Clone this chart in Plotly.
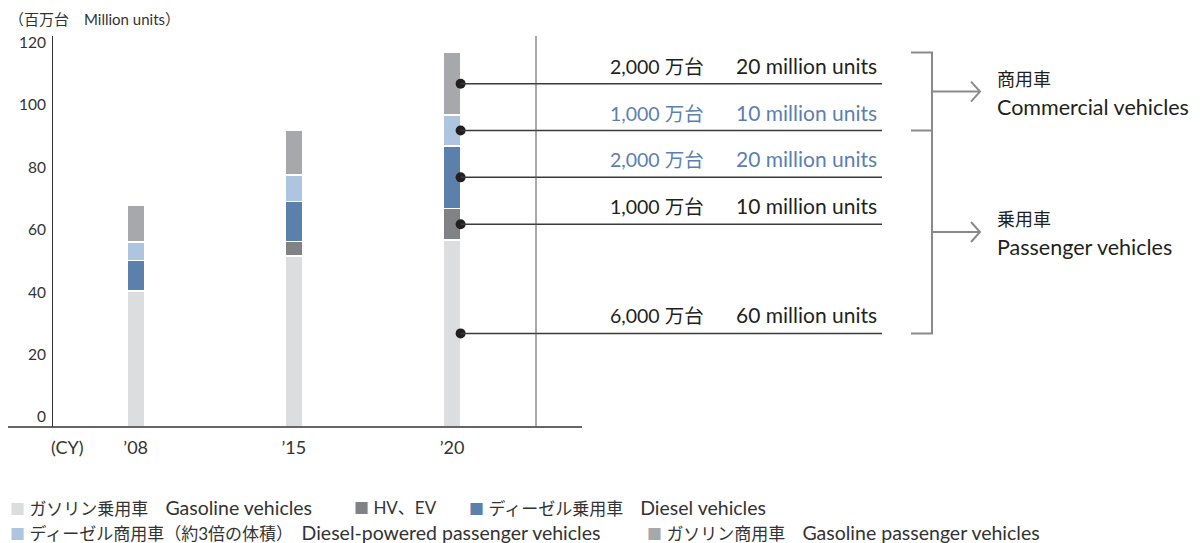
import plotly.graph_objects as go

# ---- data (million units) ----
years = ["’08", "’15", "’20"]
gasoline_pass = [43.6, 54.8, 60]
hv_ev = [0, 4.7, 10]
diesel_pass = [9.8, 12.7, 20]
diesel_comm = [5.9, 8.5, 10]
gasoline_comm = [11.8, 14.5, 20]

series = [gasoline_pass, hv_ev, diesel_pass, diesel_comm, gasoline_comm]
series_jp = ["ガソリン乗用車", "HV、EV", "ディーゼル乗用車",
             "ディーゼル商用車（約3倍の体積）", "ガソリン商用車"]
series_en = ["Gasoline vehicles", "", "Diesel vehicles",
             "Diesel-powered passenger vehicles", "Gasoline passenger vehicles"]
series_colors = ["#dcdddf", "#808285", "#5b80ac", "#adc5de", "#a7a8ab"]

# callouts for the '20 bar, bottom -> top
callout_jp = ["6,000 万台", "1,000 万台", "2,000 万台", "1,000 万台", "2,000 万台"]
callout_en = ["60 million units", "10 million units", "20 million units",
              "10 million units", "20 million units"]
callout_color = ["#231f20", "#231f20", "#5b7fb0", "#5b7fb0", "#231f20"]

FONT = "Lato, 'Noto Sans CJK JP', sans-serif"
TXT = "#231f20"

# page geometry; the html body adds an 8px margin, so positions below are
# given in window pixels and shifted by OFF
OFF = 8
W, H = 1200, 543
PL, PR = 8, 1200          # plot area left/right (window px)
PT, PB = 36, 427          # plot area top/bottom (window px)
Y_TOP = 125.3
BAR_W = 0.109
STEP = 158.15             # px between bar centres
X_MIN = -(135.7 - PL) / STEP
X_MAX = 2 + (PR - 452) / STEP

# legend item slots (window px): (x, y)
legend_pos = [(8, 508), (352, 508), (467, 508), (8, 532), (645, 532)]


def px_x(p):
    return (p - PL) / (PR - PL)


def px_y(p):
    return (PB - p) / (PB - PT)


fig = go.Figure()
xs = list(range(len(years)))
for vals, name, color in zip(series, series_jp, series_colors):
    fig.add_trace(go.Bar(
        x=xs, y=vals, name=name, width=BAR_W, showlegend=False,
        marker=dict(color=color, line=dict(color="white", width=1.5)),
    ))

# callout points: middle of each segment of the last bar
last = len(years) - 1
mids, acc = [], 0
for vals in series:
    mids.append(acc + vals[last] / 2)
    acc += vals[last]
total_last = acc
dot_x = last + BAR_W / 2

for m, jp, en, c in zip(mids, callout_jp, callout_en, callout_color):
    fig.add_shape(type="line", xref="x", yref="y", x0=dot_x, x1=last + (882 - 452) / STEP,
                  y0=m, y1=m, line=dict(color="#3a3a3a", width=1.5), layer="above")
    fig.add_annotation(xref="paper", yref="y", x=px_x(706), y=m, xanchor="right",
                       yanchor="bottom", yshift=4, text=jp, showarrow=False,
                       font=dict(size=19.5, color=c, family=FONT))
    fig.add_annotation(xref="paper", yref="y", x=px_x(734), y=m, xanchor="left",
                       yanchor="bottom", yshift=4, text=en, showarrow=False,
                       font=dict(size=21, color=c, family=FONT))

fig.add_trace(go.Scatter(
    x=[dot_x] * len(mids), y=mids, mode="markers", showlegend=False,
    marker=dict(size=10, color="#231f20"), cliponaxis=False, hoverinfo="skip",
))

# axes lines drawn by hand
fig.add_shape(type="line", xref="paper", yref="paper", x0=0, x1=px_x(582), y0=0, y1=0,
              line=dict(color="#333333", width=1.5))
fig.add_shape(type="line", xref="paper", yref="paper", x0=px_x(536), x1=px_x(536), y0=0, y1=1,
              line=dict(color="#555555", width=1))

# brackets + arrows
bx, tx = px_x(932), px_x(911)
y_top, y_mid, y_bot = total_last / Y_TOP, mids[3] / Y_TOP, mids[0] / Y_TOP
gray = "#8a8a8a"
fig.add_shape(type="path", xref="paper", yref="paper",
              path=f"M {tx} {y_top} L {bx} {y_top} L {bx} {y_bot} L {tx} {y_bot} M {tx} {y_mid} L {bx} {y_mid}",
              line=dict(color=gray, width=2))
for ya in [(y_top + y_mid) / 2, (y_mid + y_bot) / 2]:
    fig.add_shape(type="line", xref="paper", yref="paper", x0=bx, x1=px_x(980), y0=ya, y1=ya,
                  line=dict(color=gray, width=2))
    fig.add_shape(type="path", xref="paper", yref="paper", xsizemode="pixel", ysizemode="pixel",
                  xanchor=px_x(980), yanchor=ya, path="M -9 10 L 0 0 L -9 -10",
                  line=dict(color=gray, width=2))

for ya, jp, en in [((y_top + y_mid) / 2, "商用車", "Commercial vehicles"),
                   ((y_mid + y_bot) / 2, "乗用車", "Passenger vehicles")]:
    fig.add_annotation(xref="paper", yref="paper", x=px_x(995), y=ya, yshift=13,
                       xanchor="left", yanchor="middle", text=jp, showarrow=False,
                       font=dict(size=18, color=TXT, family=FONT))
    fig.add_annotation(xref="paper", yref="paper", x=px_x(995), y=ya, yshift=-15,
                       xanchor="left", yanchor="middle", text=en, showarrow=False,
                       font=dict(size=21.5, color=TXT, family=FONT))

# unit label and (CY)
fig.add_annotation(xref="paper", yref="paper", x=px_x(7), y=px_y(19), xanchor="left",
                   yanchor="middle", text="（百万台　Million units）", showarrow=False,
                   font=dict(size=15, color="#333333", family=FONT))
fig.add_annotation(xref="paper", yref="paper", x=px_x(68), y=px_y(447), xanchor="center",
                   yanchor="middle", text="(CY)", showarrow=False,
                   font=dict(size=18, color="#333333", family=FONT))

# legend drawn as text rows
for (lx, ly), jp, en, color in zip(legend_pos, series_jp, series_en, series_colors):
    label = (f"<span style='color:{color};font-size:15px'>■</span> "
             f"<span style='font-size:17px'>{jp}</span>")
    if en:
        label += f"<span style='font-size:17px'>　</span><span style='font-size:19.5px'>{en}</span>"
    fig.add_annotation(xref="paper", yref="paper", x=px_x(lx), y=px_y(ly), xanchor="left",
                       yanchor="middle", text=label, showarrow=False,
                       font=dict(size=17, color="#333333", family=FONT))

fig.update_layout(
    width=W, height=H,
    margin=dict(l=PL - OFF, r=W - (PR - OFF), t=PT - OFF, b=H - (PB - OFF), autoexpand=False),
    paper_bgcolor="white", plot_bgcolor="white",
    barmode="stack",
    font=dict(family=FONT, color="#333333"),
    showlegend=False,
    xaxis=dict(range=[X_MIN, X_MAX], tickvals=xs, ticktext=years, showgrid=False,
               zeroline=False, showline=False, ticks="", ticklabelstandoff=8,
               tickfont=dict(size=18, color="#333333")),
    yaxis=dict(range=[0, Y_TOP], anchor="free", position=px_x(52.3), showgrid=False,
               zeroline=False, showline=True, linecolor="#333333", linewidth=1.3,
               ticks="", tickvals=[0, 20, 40, 60, 80, 100, 120], ticklabelshift=-10,
               ticklabelstandoff=3, tickfont=dict(size=15.5, color="#333333")),
)

fig.write_html("out.html")
